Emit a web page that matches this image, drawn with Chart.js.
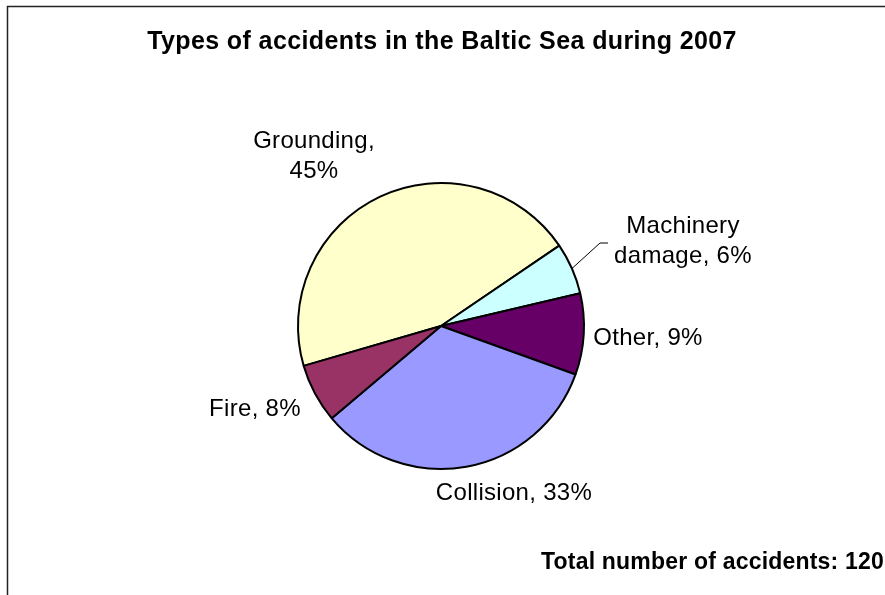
<!DOCTYPE html>
<html>
<head>
<meta charset="utf-8">
<script src="https://cdn.jsdelivr.net/npm/chart.js@4.4.0/dist/chart.umd.min.js"></script>
<style>
  html, body { margin: 0; padding: 0; background: #fff; }
  canvas { display: block; }
</style>
</head>
<body>
<canvas id="accidentChart" width="885" height="595"></canvas>
<script>
// accidents by type, Baltic Sea 2007 (total 120)
const categories = ['Grounding', 'Machinery damage', 'Other', 'Collision', 'Fire'];
const counts = [54, 7, 11, 40, 8];
const percentLabels = ['45%', '6%', '9%', '33%', '8%'];
const labelLines = [
    ['Grounding,', percentLabels[0]],
    ['Machinery', 'damage, ' + percentLabels[1]],
    ['Other, ' + percentLabels[2]],
    ['Collision, ' + percentLabels[3]],
    ['Fire, ' + percentLabels[4]]
];
const sliceColors = ['#FFFFCC', '#CCFFFF', '#660066', '#9999FF', '#993366'];

// label placement, offsets from the pie centre (x, first baseline)
const labelOffsets = [[-127, -178], [242, -93], [207, 19], [73, 174], [-186, 90]];

const labelFont = '24px "Liberation Sans", Arial, sans-serif';
const titleFont = 'bold 25px "Liberation Sans", Arial, sans-serif';
const totalFont = 'bold 23px "Liberation Sans", Arial, sans-serif';

const decorPlugin = {
    id: 'decor',
    beforeDraw(chart) {
        const c = chart.ctx;
        c.save();
        c.fillStyle = '#fff';
        c.fillRect(0, 0, chart.width, chart.height);
        // frame (left + top edges)
        c.strokeStyle = '#222';
        c.lineWidth = 1.5;
        c.beginPath();
        c.moveTo(7.5, chart.height);
        c.lineTo(7.5, 6.5);
        c.lineTo(chart.width, 6.5);
        c.stroke();
        c.restore();
    },
    afterDraw(chart) {
        const c = chart.ctx;
        const arcs = chart.getDatasetMeta(0).data;
        const cx = arcs[0].x, cy = arcs[0].y;
        c.save();
        c.fillStyle = '#000';
        c.font = titleFont;
        c.letterSpacing = '0.4px';
        c.textAlign = 'center';
        c.textBaseline = 'alphabetic';
        c.fillText('Types of accidents in the Baltic Sea during 2007', 442, 49);

        c.font = labelFont;
        c.letterSpacing = '0.3px';
        labelLines.forEach((lines, i) => {
            const [dx, dy] = labelOffsets[i];
            lines.forEach((t, j) => {
                c.fillText(t, cx + dx, cy + dy + j * 30);
            });
        });

        // leader line for the machinery damage slice
        const m = arcs[1];
        const mid = (m.startAngle + m.endAngle) / 2;
        const ex = cx + m.outerRadius * Math.cos(mid);
        const ey = cy + m.outerRadius * Math.sin(mid);
        c.strokeStyle = '#000';
        c.lineWidth = 1;
        c.beginPath();
        c.moveTo(ex, ey);
        c.lineTo(600, 243);
        c.lineTo(608, 243);
        c.stroke();

        c.font = totalFont;
        c.letterSpacing = '0.2px';
        c.textAlign = 'left';
        c.fillText('Total number of accidents: 120', 541, 569);
        c.restore();
    }
};

new Chart(document.getElementById('accidentChart'), {
    type: 'pie',
    data: {
        labels: categories,
        datasets: [{
            data: counts,
            backgroundColor: sliceColors,
            borderColor: '#000',
            borderWidth: 2
        }]
    },
    options: {
        responsive: false,
        animation: false,
        rotation: 253.8,
        layout: {
            padding: { top: 182, bottom: 125, left: 297, right: 300 }
        },
        plugins: {
            legend: { display: false },
            tooltip: { enabled: false },
            title: { display: false }
        }
    },
    plugins: [decorPlugin]
});
</script>
</body>
</html>
